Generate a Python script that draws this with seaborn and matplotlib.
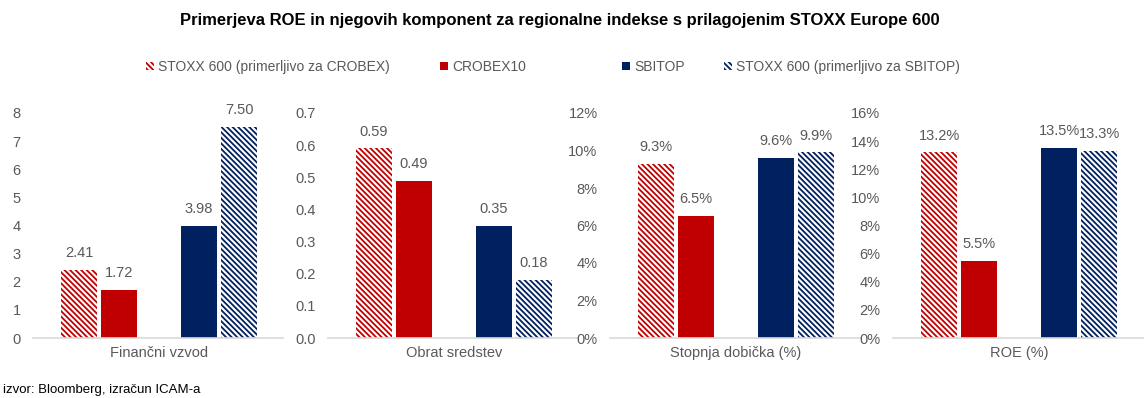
import numpy as np
import pandas as pd
import matplotlib
matplotlib.use('Agg')
import matplotlib.pyplot as plt
from matplotlib.patches import Patch
from matplotlib.ticker import FuncFormatter
import seaborn as sns

# --------- DATA ----------
series = ["STOXX 600 (primerljivo za CROBEX)", "CROBEX10", "SBITOP",
          "STOXX 600 (primerljivo za SBITOP)"]
panels = ["Finančni vzvod", "Obrat sredstev", "Stopnja dobička (%)", "ROE (%)"]

fin_leverage = [2.41, 1.72, 3.98, 7.50]
asset_turnover = [0.59, 0.49, 0.35, 0.18]
profit_margin = [9.3, 6.5, 9.6, 9.9]   # %
roe = [13.2, 5.5, 13.5, 13.3]          # %

y_max = [8, 0.7, 12, 16]
y_step = [1, 0.1, 2, 2]

colors = ["#C00000", "#C00000", "#002060", "#002060"]
hatched = [True, False, False, True]

title = "Primerjeva ROE in njegovih komponent za regionalne indekse s prilagojenim STOXX Europe 600"
source = "izvor: Bloomberg, izračun ICAM-a"

# --------- STYLE ----------
sns.set_theme(style="white")
plt.rcParams['font.family'] = ['Liberation Sans', 'DejaVu Sans']
plt.rcParams['hatch.linewidth'] = 1.3
text_grey = "#595959"
HATCH = "\\" * 6

values = [fin_leverage, asset_turnover, profit_margin, roe]
df = pd.DataFrame([
    {"panel": p, "series": s, "value": v}
    for p, vals in zip(panels, values)
    for s, v in zip(series, vals)
])

W, H = 1147, 398
fig = plt.figure(figsize=(W / 100, H / 100), dpi=100)

lefts = [33, 328, 610, 893]
ax_w = 250
bottom, top = 338, 113

order = [series[0], series[1], "", series[2], series[3]]
palette = dict(zip(series, colors))

for i, (panel, left) in enumerate(zip(panels, lefts)):
    ax = fig.add_axes([left / W, (H - bottom) / H, ax_w / W, (bottom - top) / H])
    sub = df[df["panel"] == panel]
    sns.barplot(data=sub, x="series", y="value", order=order, hue="series",
                hue_order=series, palette=palette, legend=False, width=0.9,
                saturation=1, errorbar=None, ax=ax)

    for k, cont in enumerate(ax.containers):
        for bar in cont:
            bar.set_linewidth(0)
            if hatched[k]:
                bar.set_facecolor("white")
                bar.set_edgecolor(colors[k])
                bar.set_hatch(HATCH)
        if i < 2:
            labels = [f"{v:.2f}" for v in cont.datavalues]
        else:
            labels = [f"{v:.1f}%" for v in cont.datavalues]
        ax.bar_label(cont, labels=labels, padding=7, color=text_grey, fontsize=10.5)

    ax.set_xlim(-1.15, 5.1)
    ax.set_ylim(0, y_max[i])
    ax.set_yticks(np.arange(0, y_max[i] + y_step[i] / 2, y_step[i]))
    if i == 0:
        ax.yaxis.set_major_formatter(FuncFormatter(lambda v, p: f"{v:.0f}"))
    elif i == 1:
        ax.yaxis.set_major_formatter(FuncFormatter(lambda v, p: f"{v:.1f}"))
    else:
        ax.yaxis.set_major_formatter(FuncFormatter(lambda v, p: f"{v:.0f}%"))
    ax.set_xticks([2])
    ax.set_xticklabels([panel])
    ax.set_xlabel("")
    ax.set_ylabel("")
    ax.tick_params(axis="both", length=0, labelsize=10.5, colors=text_grey)
    ax.tick_params(axis="y", pad=9)
    ax.tick_params(axis="x", pad=6)
    for s in ["top", "right", "left"]:
        ax.spines[s].set_visible(False)
    ax.spines["bottom"].set_color("#D9D9D9")
    ax.spines["bottom"].set_linewidth(1.2)
    ax.grid(False)

# --------- LEGEND ----------
legend_x = [146, 440, 622, 724]
for k, (s, x) in enumerate(zip(series, legend_x)):
    if hatched[k]:
        h = Patch(facecolor="white", edgecolor=colors[k], hatch=HATCH, linewidth=0)
    else:
        h = Patch(facecolor=colors[k], edgecolor=colors[k], linewidth=0)
    fig.legend(handles=[h], labels=[s], loc="center left",
               bbox_to_anchor=(x / W, 1 - 67 / H), frameon=False,
               handlelength=0.55, handleheight=0.55, handletextpad=0.35,
               borderpad=0, borderaxespad=0, fontsize=10, labelcolor=text_grey)

fig.text(560 / W, 1 - 21 / H, title, ha="center", va="center",
         fontsize=12, fontweight="bold", color="black")
fig.text(3 / W, 1 - 390 / H, source, ha="left", va="center",
         fontsize=9.5, color="black")

plt.savefig("out.png", dpi=100)
plt.close()
